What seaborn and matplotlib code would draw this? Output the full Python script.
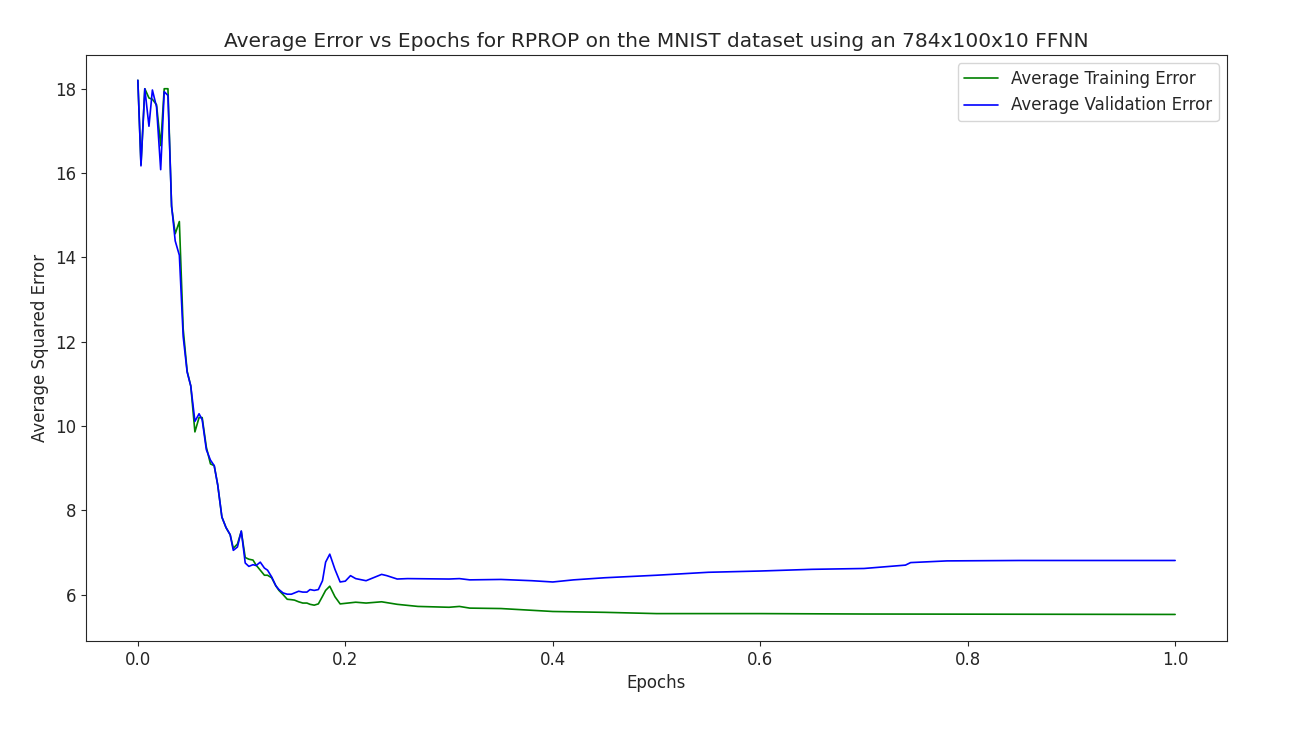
import matplotlib
matplotlib.use("Agg")
import matplotlib.pyplot as plt
import seaborn as sns
import pandas as pd

early_epochs = [0,.003,.0067,.0107,.014,.018,.022,.0254,.029,.0325,.036,.040,.0437,.0475,.051,.055,.059,.062,.066,.070,.0736,.077,.081,.085,.089,.092,.096,.0997,.1035,.107,.111,.114,.118,.122,.125,.129,.133,.136,.140,.144,.148,.151,.155,.159,.163,.166,.170,.174,.178,.181,.185]
early_val = [18.2,16.17,18.0,17.11,17.97,17.57,16.08,17.93,17.84,15.23,14.39,14.05,12.12,11.28,10.95,10.11,10.29,10.15,9.44,9.19,9.06,8.6,7.84,7.59,7.42,7.05,7.13,7.51,6.75,6.67,6.71,6.69,6.77,6.63,6.58,6.42,6.21,6.12,6.04,6.01,6.01,6.04,6.08,6.06,6.06,6.12,6.1,6.12,6.33,6.77,6.96]
early_train = [18.2,16.2,18.0,17.78,17.75,17.62,16.65,18.0,18.0,15.2,14.56,14.85,12.3,11.3,10.95,9.86,10.2,10.2,9.5,9.1,9.06,8.6,7.84,7.59,7.42,7.1,7.2,7.5,6.88,6.84,6.82,6.7,6.58,6.46,6.46,6.4,6.21,6.1,6.0,5.89,5.88,5.87,5.83,5.8,5.8,5.77,5.75,5.78,5.96,6.1,6.2]

late_val_epochs = [.19,.195,.2,.205,.21,.22,.235,.24,.25,.26,.3,.31,.32,.35,.38,.4,.42,.45,.5,.55,.6,.65,.7,.74,.745,.78,.85,1.0]
late_val = [6.6,6.3,6.32,6.45,6.38,6.33,6.48,6.45,6.37,6.38,6.37,6.38,6.35,6.36,6.33,6.3,6.35,6.4,6.46,6.53,6.56,6.6,6.62,6.7,6.76,6.8,6.81,6.81]
late_train_epochs = [.19,.195,.21,.22,.235,.25,.27,.3,.31,.32,.35,.4,.45,.5,.6,.7,1.0]
late_train = [5.95,5.78,5.82,5.8,5.83,5.77,5.72,5.7,5.72,5.68,5.67,5.6,5.58,5.55,5.55,5.54,5.53]

train = pd.DataFrame({"Epochs": early_epochs + late_train_epochs, "Error": early_train + late_train})
val = pd.DataFrame({"Epochs": early_epochs + late_val_epochs, "Error": early_val + late_val})

sns.set_style("ticks")
plt.rcParams['font.family'] = ['DejaVu Sans']
fig = plt.figure(figsize=(13, 7.3), dpi=100)
ax = fig.add_axes([86/1300, 1-641/730, (1227-86)/1300, (641-55)/730])
sns.lineplot(data=train, x="Epochs", y="Error", color="green", lw=1.2, ax=ax, label="Average Training Error")
sns.lineplot(data=val, x="Epochs", y="Error", color="blue", lw=1.2, ax=ax, label="Average Validation Error")
ax.set_xlim(-0.05, 1.05)
ax.set_ylim(4.9, 18.8)
ax.set_yticks([6, 8, 10, 12, 14, 16, 18])
ax.set_xticks([0.0, 0.2, 0.4, 0.6, 0.8, 1.0])
ax.tick_params(labelsize=12)
ax.set_xlabel("Epochs", fontsize=12)
ax.set_ylabel("Average Squared Error", fontsize=12)
ax.set_title("Average Error vs Epochs for RPROP on the MNIST dataset using an 784x100x10 FFNN", fontsize=14.5)
ax.legend(loc="upper right", fontsize=12)
fig.savefig("out.png")
